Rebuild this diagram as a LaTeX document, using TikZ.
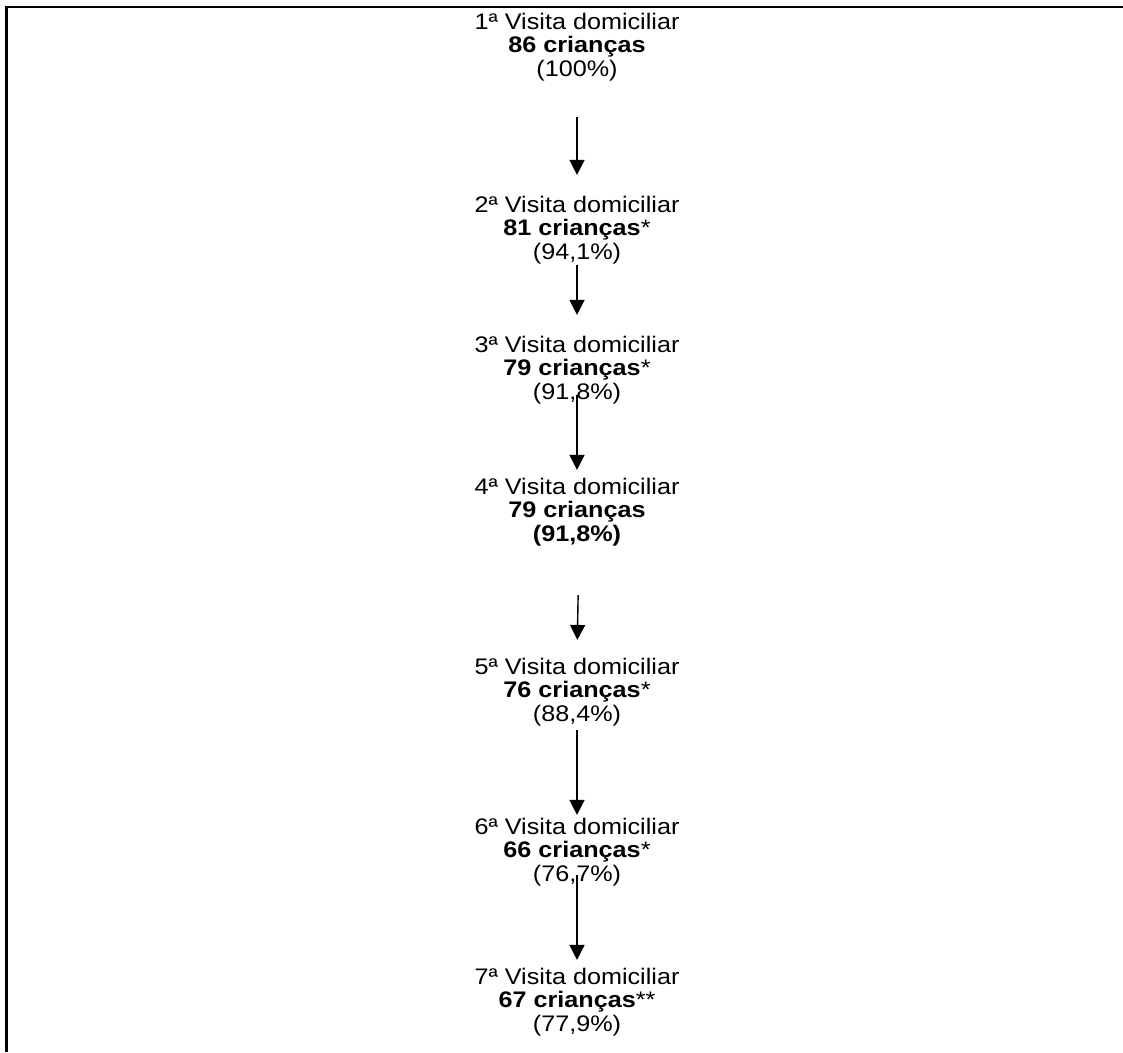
\documentclass[tikz,border=0pt]{standalone}
\usepackage{fontspec}
\setmainfont{Liberation Sans}
\usetikzlibrary{arrows.meta}

\begin{document}
\begin{tikzpicture}[x=1pt,y=-1pt]
\tikzstyle{every node}=[align=center,inner sep=0pt,xscale=1.12,transform shape,font=\fontsize{22.5}{23.5}\selectfont]
\tikzstyle{seta}=[-{Triangle[width=15pt,length=15pt]},line width=1.4pt]
\tikzstyle{moldura}=[line width=2.3pt]

\useasboundingbox (0,0) rectangle (1123,1052);
\draw[moldura] (6.5,1052) -- (6.5,7) -- (1123,7);

\node (v1) at (577,47) {1ª Visita domiciliar\\\textbf{86 crianças}\\(100\%)};
\node (v2) at (577,230) {2ª Visita domiciliar\\\textbf{81 crianças}*\\(94,1\%)};
\node (v3) at (577,370) {3ª Visita domiciliar\\\textbf{79 crianças}*\\(91,8\%)};
\node (v4) at (577,512) {4ª Visita domiciliar\\\textbf{79 crianças}\\\textbf{(91,8\%)}};
\node (v5) at (577,692) {5ª Visita domiciliar\\\textbf{76 crianças}*\\(88,4\%)};
\node (v6) at (577,852) {6ª Visita domiciliar\\\textbf{66 crianças}*\\(76,7\%)};
\node (v7) at (577,1002) {7ª Visita domiciliar\\\textbf{67 crianças}**\\(77,9\%)};

\draw[seta,shorten <=35.9pt,shorten >=20.9pt] (v1.south) -- (v2.north);
\draw[seta,shorten <=0.9pt,shorten >=20.9pt] (v2.south) -- (v3.north);
\draw[seta,shorten <=-9.1pt,shorten >=7.9pt] (v3.south) -- (v4.north);
\draw[seta,shorten <=48.9pt,shorten >=17.9pt] ([xshift=2pt]v4.south) -- (v5.north);
\draw[seta,shorten <=3.9pt,shorten >=2.9pt] (v5.south) -- (v6.north);
\draw[seta,shorten <=-11.1pt,shorten >=7.9pt] (v6.south) -- (v7.north);
\end{tikzpicture}
\end{document}
